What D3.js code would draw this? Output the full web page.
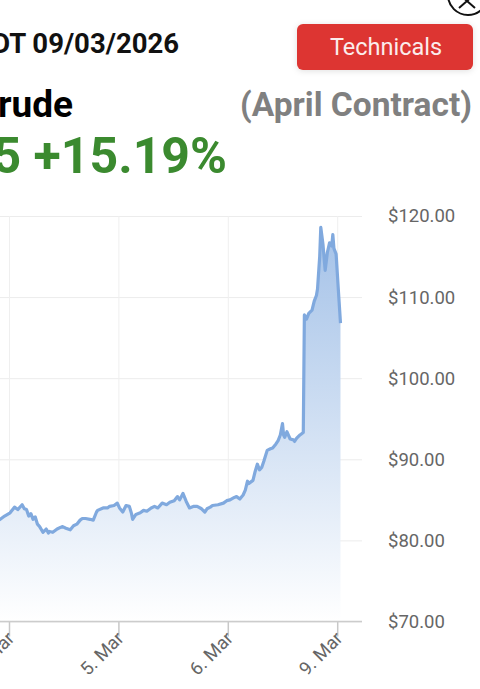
<!DOCTYPE html>
<html>
<head>
<meta charset="utf-8">
<script src="https://cdn.jsdelivr.net/npm/d3@7/dist/d3.min.js"></script>
<style>
  html, body { margin: 0; padding: 0; background: #fff; overflow: hidden; }
  svg { display: block; font-family: Roboto, "Noto Sans", sans-serif; }
</style>
</head>
<body>
<svg id="chart" width="480" height="689"></svg>
<script>
// ---- data ----
const dayLabels = ["4. Mar", "5. Mar", "6. Mar", "9. Mar"];
const dayTicks = [0, 1, 2, 3];
const yTicks = [70, 80, 90, 100, 110, 120];
// time in trading days from 4 Mar
const times = [-0.19,-0.13,-0.08,-0.04,0.01,0.05,0.08,0.12,0.14,0.16,0.18,0.20,0.22,0.24,0.26,0.28,0.31,0.34,0.36,0.37,0.40,0.44,0.47,0.49,0.52,0.56,0.59,0.62,0.65,0.67,0.70,0.74,0.77,0.80,0.81,0.86,0.90,0.92,0.96,0.99,1.01,1.04,1.07,1.10,1.12,1.13,1.16,1.20,1.23,1.26,1.30,1.33,1.36,1.40,1.44,1.47,1.51,1.54,1.56,1.59,1.62,1.65,1.69,1.72,1.76,1.79,1.81,1.84,1.86,1.91,1.96,1.99,2.02,2.06,2.08,2.11,2.14,2.16,2.18,2.19,2.23,2.25,2.27,2.29,2.31,2.33,2.36,2.39,2.41,2.44,2.46,2.48,2.50,2.51,2.52,2.54,2.57,2.60,2.61,2.63,2.66,2.69,2.70,2.72,2.74,2.77,2.79,2.81,2.82,2.84,2.85,2.87,2.89,2.91,2.93,2.95,2.96,2.97,2.99,3.01,3.03];
const prices = [82.0,82.3,82.6,83.0,83.4,84.1,83.8,84.4,83.9,83.8,83.0,83.3,82.6,82.9,82.0,81.7,81.0,81.4,80.9,81.1,81.0,81.4,81.6,81.7,81.5,81.3,81.8,82.0,82.5,82.7,82.7,82.6,82.5,83.5,83.7,84.0,84.0,84.2,84.3,84.6,84.0,83.5,84.3,84.2,83.3,82.6,83.2,83.4,83.7,83.6,84.0,84.2,84.0,84.6,84.4,84.7,84.9,85.4,85.0,85.8,84.8,84.0,84.2,84.2,83.9,83.5,83.9,84.1,84.3,84.4,84.6,84.9,85.0,85.3,85.4,85.1,85.6,86.2,87.3,87.0,87.4,88.5,89.4,88.7,89.0,89.8,91.1,91.3,91.4,91.9,92.3,93.0,94.4,93.0,92.7,93.4,92.5,92.4,92.2,92.6,93.0,93.3,107.8,107.3,108.0,108.4,109.5,110.2,111.0,115.0,118.6,116.5,113.3,115.5,116.7,116.3,117.7,116.0,115.3,111.0,106.8];
const dateText = "DT 09/03/2026";
const nameText = "rude";
const changeText = "5 +15.19%";
const contractText = "(April Contract)";
const buttonText = "Technicals";

const data = times.map((t, i) => ({ t, v: prices[i] }));

const svg = d3.select("#chart");

// ---- header ----
svg.append("text").attr("x", 179).attr("y", 53).attr("text-anchor", "end")
  .attr("font-size", 27.5).attr("font-weight", 700).attr("fill", "#111").text(dateText);
svg.append("text").attr("x", 73).attr("y", 117).attr("text-anchor", "end")
  .attr("font-size", 37).attr("font-weight", 700).attr("fill", "#000").text(nameText);
svg.append("text").attr("x", 227).attr("y", 173).attr("text-anchor", "end")
  .attr("font-size", 50).attr("font-weight", 700).attr("fill", "#3b8a2f").text(changeText);
svg.append("text").attr("x", 472).attr("y", 116).attr("text-anchor", "end")
  .attr("font-size", 33.5).attr("font-weight", 700).attr("fill", "#808080").text(contractText);

// button
const defs = svg.append("defs");
const sh = defs.append("filter").attr("id", "sh").attr("x", "-20%").attr("y", "-40%").attr("width", "140%").attr("height", "180%");
sh.append("feDropShadow").attr("dx", 0).attr("dy", 1).attr("stdDeviation", 3).attr("flood-color", "#000").attr("flood-opacity", 0.12);
svg.append("rect").attr("x", 297).attr("y", 24).attr("width", 176).attr("height", 46).attr("rx", 6)
  .attr("fill", "#dd3530").attr("filter", "url(#sh)");
svg.append("text").attr("x", 386).attr("y", 55).attr("text-anchor", "middle")
  .attr("font-size", 23.5).attr("fill", "#fbecec").text(buttonText);

// close circle
svg.append("circle").attr("cx", 468).attr("cy", -5).attr("r", 20)
  .attr("fill", "#fff").attr("stroke", "#111").attr("stroke-width", 2);
svg.append("path").attr("d", "M459,-6 L475,8 M459,8 L475,-6")
  .attr("stroke", "#111").attr("stroke-width", 2).attr("fill", "none");

// ---- chart ----
const plotLeft = -200, plotRight = 362;
const x = d3.scaleLinear().domain([0, 3]).range([9, 337.2]);
const y = d3.scaleLinear().domain([70, 120]).range([621.5, 216]);

const grad = defs.append("linearGradient").attr("id", "fillGrad")
  .attr("gradientUnits", "userSpaceOnUse").attr("x1", 0).attr("x2", 0)
  .attr("y1", y(120)).attr("y2", y(70));
grad.append("stop").attr("offset", 0).attr("stop-color", "#9dbde6").attr("stop-opacity", 0.95);
grad.append("stop").attr("offset", 1).attr("stop-color", "#ffffff").attr("stop-opacity", 1);

// horizontal grid
const gy = svg.append("g").attr("transform", `translate(${plotRight},0)`)
  .call(d3.axisLeft(y).tickValues(yTicks).tickSize(plotRight - plotLeft).tickFormat(""));
gy.select(".domain").remove();
gy.selectAll(".tick line").attr("stroke", "#ececec").attr("stroke-width", 1);

// vertical grid
const gx = svg.append("g").attr("transform", `translate(0,${y(70)})`)
  .call(d3.axisTop(x).tickValues(dayTicks).tickSize(y(70) - y(120)).tickFormat(""));
gx.select(".domain").remove();
gx.selectAll(".tick line").attr("stroke", "#efefef").attr("stroke-width", 1);

// area + line
svg.append("path").datum(data)
  .attr("fill", "url(#fillGrad)")
  .attr("d", d3.area().x(d => x(d.t)).y0(y(70)).y1(d => y(d.v)));
svg.append("path").datum(data)
  .attr("fill", "none").attr("stroke", "#80a9de").attr("stroke-width", 3.2)
  .attr("stroke-linejoin", "round")
  .attr("d", d3.line().x(d => x(d.t)).y(d => y(d.v)));

// bottom axis
const ax = svg.append("g").attr("transform", `translate(0,${y(70)})`)
  .call(d3.axisBottom(x).tickValues(dayTicks).tickSize(15).tickFormat((d, i) => dayLabels[i]));
ax.select(".domain").remove();
svg.append("line").attr("x1", plotLeft).attr("x2", plotRight).attr("y1", y(70)).attr("y2", y(70))
  .attr("stroke", "#cccccc").attr("stroke-width", 1.5);
ax.selectAll(".tick line").attr("stroke", "#c8c8c8").attr("stroke-width", 1.5);
ax.selectAll(".tick text")
  .attr("font-family", "Roboto, sans-serif").attr("font-size", 18.5).attr("fill", "#666")
  .attr("text-anchor", "end").attr("dy", 0)
  .attr("transform", "translate(6,18) rotate(-45)").attr("y", 0).attr("x", 0);

// right axis labels
const ay = svg.append("g").attr("transform", `translate(388,0)`)
  .call(d3.axisRight(y).tickValues(yTicks).tickSize(0).tickFormat(d => "$" + d3.format(".2f")(d)));
ay.select(".domain").remove();
ay.selectAll(".tick text").attr("x", 0)
  .attr("font-family", "Roboto, sans-serif").attr("font-size", 18.5).attr("fill", "#666");
</script>
</body>
</html>
